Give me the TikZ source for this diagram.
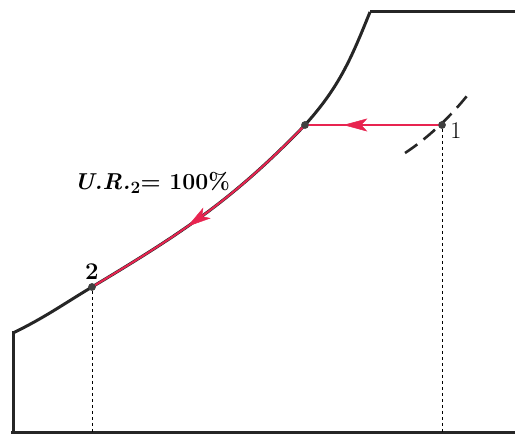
\documentclass[tikz,border=0pt]{standalone}
\usetikzlibrary{decorations.markings,arrows.meta}
\definecolor{procred}{RGB}{232,36,80}
\begin{document}
\begin{tikzpicture}[x=1pt,y=1pt,
  dot/.style={circle,fill=black!75,inner sep=0pt,minimum size=7.5pt},
  sat/.style={line width=3pt,black!85},
  proc/.style={line width=2pt,procred},
  guide/.style={dashed,line width=0.9pt,black},
  midarrow/.style={postaction={decorate},decoration={markings,mark=at position #1 with {\arrow[procred,line width=0.5pt]{Stealth[length=24pt,width=13pt,inset=6pt]}}}},
  lbl/.style={font=\fontsize{24}{26}\selectfont}]
\useasboundingbox (0,0) rectangle (515,436);
% points
\node[dot] (p1) at (442,311) {};
\node[dot] (pm) at (305,311) {};
\node[dot] (p2) at (92,149) {};
\coordinate (a0) at (13,3);
\coordinate (a1) at (13,103);
\coordinate (b1) at (370,424);
\coordinate (b2) at (515,424);
\coordinate (c0) at (11,3);
\coordinate (c1) at (515,3);
\coordinate (d1) at (92,3);
\coordinate (d2) at (442,3);
% axes / saturation line
\draw[sat] (c0) -- (c1);
\draw[sat,line cap=rect] (a0) -- (a1);
\draw[sat] (a1) to[out=26,in=211] (p2.center) to[out=31,in=226] (pm.center) to[out=48,in=248] (b1);
\draw[sat] (b1) -- (b2);
% dashed guides
\draw[guide] (p2) -- (d1);
\draw[guide] (p1) -- (d2);
% process lines
\draw[proc,midarrow=0.72] (p1.center) -- (pm.center);
\draw[proc,midarrow=0.58] (pm.center) to[out=226,in=31] (p2.center);
% dashed curve through point 1
\draw[line width=2.6pt,black!85,dash pattern=on 15pt off 8pt] (405,283) .. controls (425,296) and (450,318) .. (470,344);
\node[dot] at (p1) {};
\node[dot] at (pm) {};
\node[dot] at (p2) {};
% labels
\node[lbl] (l1) at (456,305) {1};
\node[lbl,font=\bfseries\fontsize{24}{26}\selectfont] (l2) at (92,164) {2};
\node[font=\bfseries\fontsize{23}{26}\selectfont] (ur) at (152,253) {\textit{U.R.}$_{\mathbf{2}}$= 100\%};
\end{tikzpicture}
\end{document}
